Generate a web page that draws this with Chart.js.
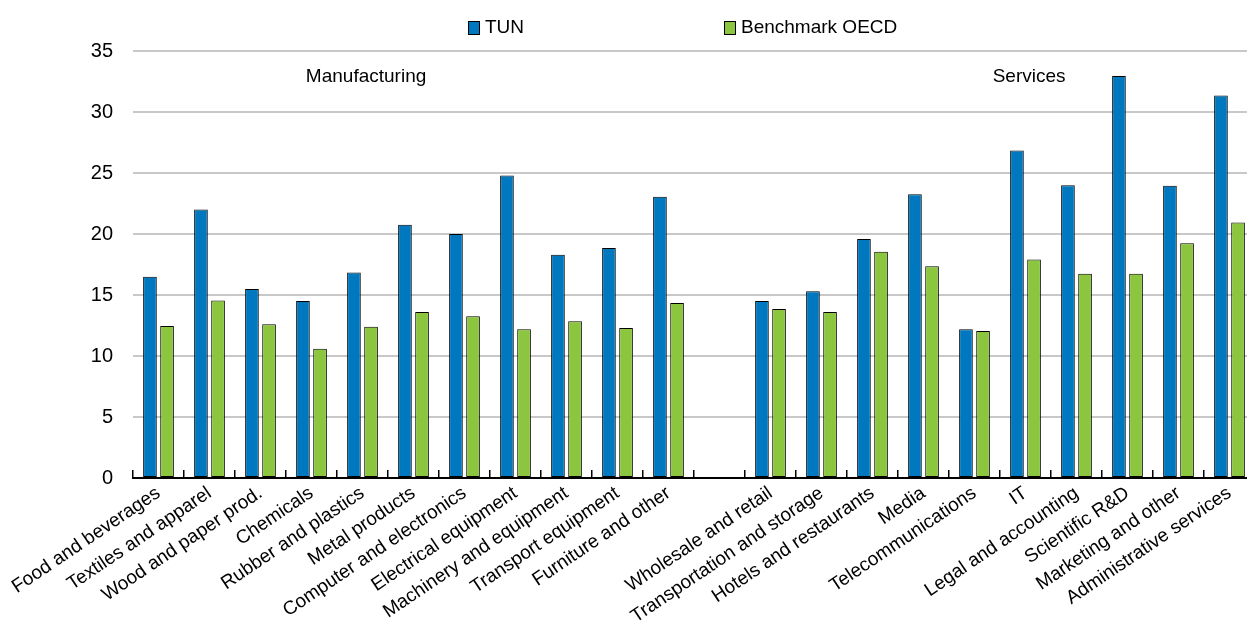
<!DOCTYPE html>
<html>
<head>
<meta charset="utf-8">
<script src="https://cdn.jsdelivr.net/npm/chart.js@4"></script>
<style>
  html, body { margin: 0; padding: 0; background: #fff; overflow: hidden; }
  #wrap { width: 1255px; height: 632px; position: relative; }
</style>
</head>
<body>
<div id="wrap"><canvas id="c"></canvas></div>
<script>
const categories = [
  'Food and beverages', 'Textiles and apparel', 'Wood and paper prod.', 'Chemicals',
  'Rubber and plastics', 'Metal products', 'Computer and electronics', 'Electrical equipment',
  'Machinery and equipment', 'Transport equipment', 'Furniture and other', '',
  'Wholesale and retail', 'Transportation and storage', 'Hotels and restaurants', 'Media',
  'Telecommunications', 'IT', 'Legal and accounting', 'Scientific R&D',
  'Marketing and other', 'Administrative services'
];
const tunValues = [16.5, 22.0, 15.5, 14.5, 16.85, 20.75, 20.0, 24.8, 18.3, 18.85, 23.05, null,
  14.5, 15.3, 19.6, 23.25, 12.2, 26.85, 24.0, 32.95, 23.95, 31.35];
const oecdValues = [12.45, 14.55, 12.6, 10.6, 12.4, 13.6, 13.25, 12.2, 12.85, 12.3, 14.35, null,
  13.85, 13.6, 18.55, 17.35, 12.05, 17.9, 16.75, 16.75, 19.25, 20.95];
const seriesNames = ['TUN', 'Benchmark OECD'];
const yTicks = [0, 5, 10, 15, 20, 25, 30, 35];
const groupLabels = ['Manufacturing', 'Services'];
const groupAnchorIndex = [4.07, 17.07];
const groupAnchorValue = 32.9;

const FONT = "'Liberation Sans Narrow', 'Arial Narrow', 'Liberation Sans', Arial, sans-serif";
const BLUE = '#0078BF';
const GREEN = '#8CC63F';

const legendPlugin = {
  id: 'customLegend',
  afterDraw(chart) {
    const ctx = chart.ctx;
    const xs = [468, 724];
    ctx.save();
    ctx.font = '19px ' + FONT;
    ctx.textBaseline = 'middle';
    ctx.textAlign = 'left';
    chart.data.datasets.forEach((ds, i) => {
      const x = xs[i];
      ctx.fillStyle = ds.backgroundColor;
      ctx.fillRect(x, 21, 12, 14);
      ctx.strokeStyle = '#000';
      ctx.lineWidth = 1;
      ctx.strokeRect(x + 0.5, 21.5, 11, 13);
      ctx.fillStyle = '#000';
      ctx.fillText(ds.label, x + 17, 28);
    });
    ctx.restore();
  }
};

const groupPlugin = {
  id: 'groupLabels',
  afterDraw(chart) {
    const ctx = chart.ctx;
    const xs = chart.scales.x, ys = chart.scales.y;
    ctx.save();
    ctx.font = '19px ' + FONT;
    ctx.fillStyle = '#000';
    ctx.textAlign = 'center';
    ctx.textBaseline = 'middle';
    groupLabels.forEach((t, i) => {
      const base = Math.floor(groupAnchorIndex[i]);
      const frac = groupAnchorIndex[i] - base;
      const px = xs.getPixelForValue(base) + frac * (xs.getPixelForValue(base + 1) - xs.getPixelForValue(base));
      ctx.fillText(t, px, ys.getPixelForValue(groupAnchorValue));
    });
    ctx.restore();
  }
};

new Chart(document.getElementById('c'), {
  type: 'bar',
  data: {
    labels: categories,
    datasets: [
      { label: seriesNames[0], data: tunValues, backgroundColor: BLUE, borderColor: '#000', borderWidth: 1, borderSkipped: false,
        categoryPercentage: 0.67, barPercentage: 0.8 },
      { label: seriesNames[1], data: oecdValues, backgroundColor: GREEN, borderColor: '#000', borderWidth: 1, borderSkipped: false,
        categoryPercentage: 0.67, barPercentage: 0.8 }
    ]
  },
  options: {
    responsive: true,
    maintainAspectRatio: false,
    animation: false,
    layout: { padding: { top: 51, right: 0, left: 0, bottom: 0 } },
    plugins: {
      legend: { display: false },
      tooltip: { enabled: false }
    },
    scales: {
      x: {
        grid: { display: true, offset: true, drawOnChartArea: false, drawTicks: true, tickLength: -8, color: '#000', lineWidth: 1.5 },
        border: { display: true, color: '#000', width: 2 },
        ticks: {
          color: '#000', font: { family: FONT, size: 19 }, minRotation: 34, maxRotation: 34, autoSkip: false, padding: 12
        },
        afterFit(s) { s.height = 154; s.paddingLeft = 0; s.paddingRight = 0; }
      },
      y: {
        min: 0, max: 35,
        afterBuildTicks(s) { s.ticks = yTicks.map(v => ({ value: v })); },
        grid: { color: '#c8c8c8', lineWidth: 2, drawTicks: false },
        border: { display: false },
        ticks: { color: '#000', font: { family: FONT, size: 20 }, padding: 20 },
        afterFit(s) { s.width = 133; }
      }
    }
  },
  plugins: [legendPlugin, groupPlugin]
});
</script>
</body>
</html>
